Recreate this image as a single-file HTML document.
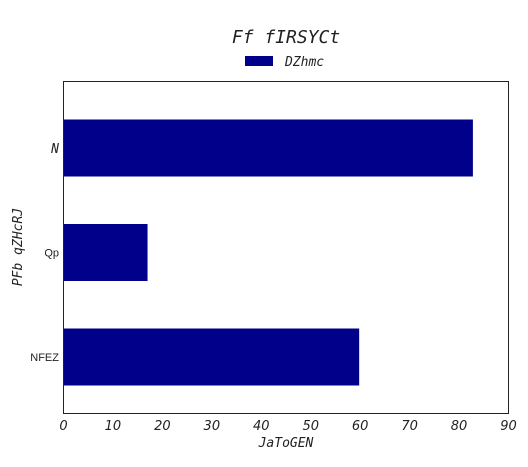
<!DOCTYPE html>
<html><head><meta charset="utf-8"><style>
body{margin:0;background:#fff;}
svg text{fill:#222;}
</style></head><body>
<svg id="chart" width="528" height="462" xmlns="http://www.w3.org/2000/svg">
<rect width="528" height="462" fill="#fff"/>
<text x="286" y="43" text-anchor="middle" font-family="DejaVu Sans Mono, monospace" font-style="italic" font-size="18">Ff fIRSYCt</text>
<rect x="245" y="56" width="28" height="10" fill="#00008b"/>
<text x="285" y="66" font-family="DejaVu Sans Mono, monospace" font-style="italic" font-size="13">DZhmc</text>
<g id="bars"></g>
<rect x="63.5" y="81.5" width="445" height="332" fill="none" stroke="#222" stroke-width="1"/>
<g id="xticks"></g>
<g id="yticks"></g>
<text x="286" y="447" text-anchor="middle" font-family="DejaVu Sans Mono, monospace" font-style="italic" font-size="13">JaToGEN</text>
<text transform="translate(22,247) rotate(-90)" text-anchor="middle" font-family="DejaVu Sans Mono, monospace" font-style="italic" font-size="13">PFb qZHcRJ</text>
</svg>
<script>
const categories = ["NFEZ", "Qp", "N"];
const values = [59.8, 17.0, 82.8];
const xTicks = [0,10,20,30,40,50,60,70,80,90];
const ns = "http://www.w3.org/2000/svg";
const X0 = 63.5, X1 = 508.5, XMAX = 90;
function xs(v){ return X0 + v/XMAX*(X1-X0); }
function ys(i){ return 357 - i*104.5; }
const bars = document.getElementById('bars');
categories.forEach((c,i)=>{
  const r = document.createElementNS(ns,'rect');
  r.setAttribute('x', xs(0));
  r.setAttribute('y', ys(i)-28.5);
  r.setAttribute('width', xs(values[i])-xs(0));
  r.setAttribute('height', 57);
  r.setAttribute('fill', '#00008b');
  
  
  bars.appendChild(r);
  const t = document.createElementNS(ns,'text');
  t.setAttribute('x', 59);
  t.setAttribute('y', ys(i)+4);
  t.setAttribute('text-anchor', 'end');
  if (c === "N") {
    t.setAttribute('font-family', 'DejaVu Sans Mono, monospace');
    t.setAttribute('font-style', 'italic');
    t.setAttribute('font-size', '13');
    t.setAttribute('y', ys(i)+5);
  } else {
    t.setAttribute('font-family', 'Liberation Sans, sans-serif');
    t.setAttribute('font-size', '11');
  }
  t.textContent = c;
  
  
  document.getElementById('yticks').appendChild(t);
});
const xg = document.getElementById('xticks');
xTicks.forEach(v=>{
  const t = document.createElementNS(ns,'text');
  t.setAttribute('x', xs(v));
  t.setAttribute('y', 430);
  t.setAttribute('text-anchor', 'middle');
  t.setAttribute('font-family', 'DejaVu Sans, sans-serif');
  t.setAttribute('font-style', 'italic');
  t.setAttribute('font-size', '13');
  t.textContent = v;
  
  
  xg.appendChild(t);
});
</script>
</body></html>
